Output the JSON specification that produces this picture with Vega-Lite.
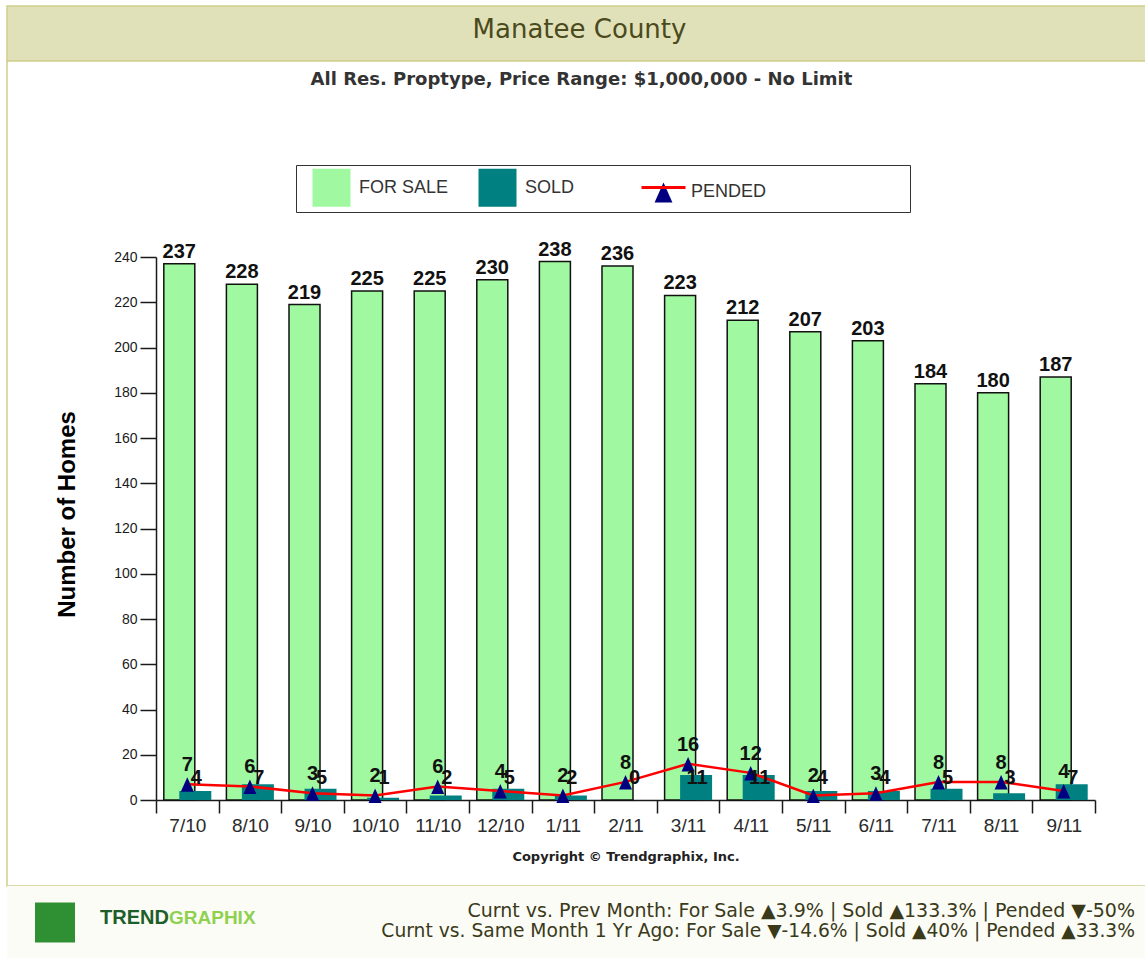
{
  "$schema": "https://vega.github.io/schema/vega-lite/v6.json",
  "background": "white",
  "padding": {"left": 6, "top": 5, "right": 0, "bottom": 0},
  "bounds": "flush",
  "spacing": 0,
  "config": {"font": "Liberation Sans", "view": {"stroke": null}},
  "datasets": {
    "homes": [
      {"month": "7/10", "forSale": 237, "sold": 4, "pended": 7},
      {"month": "8/10", "forSale": 228, "sold": 7, "pended": 6},
      {"month": "9/10", "forSale": 219, "sold": 5, "pended": 3},
      {"month": "10/10", "forSale": 225, "sold": 1, "pended": 2},
      {"month": "11/10", "forSale": 225, "sold": 2, "pended": 6},
      {"month": "12/10", "forSale": 230, "sold": 5, "pended": 4},
      {"month": "1/11", "forSale": 238, "sold": 2, "pended": 2},
      {"month": "2/11", "forSale": 236, "sold": 0, "pended": 8},
      {"month": "3/11", "forSale": 223, "sold": 11, "pended": 16},
      {"month": "4/11", "forSale": 212, "sold": 11, "pended": 12},
      {"month": "5/11", "forSale": 207, "sold": 4, "pended": 2},
      {"month": "6/11", "forSale": 203, "sold": 4, "pended": 3},
      {"month": "7/11", "forSale": 184, "sold": 5, "pended": 8},
      {"month": "8/11", "forSale": 180, "sold": 3, "pended": 8},
      {"month": "9/11", "forSale": 187, "sold": 7, "pended": 4}
    ]
  },
  "vconcat": [
    {
      "width": 1139,
      "height": 55,
      "view": {"fill": "#e1e1b9", "stroke": "#cfcf8e", "strokeWidth": 1.5},
      "data": {"values": [{"name": "Manatee County"}]},
      "mark": {"type": "text", "font": "DejaVu Sans", "fontSize": 26, "color": "#4a4a1c", "baseline": "middle", "dy": -4, "dx": 3},
      "encoding": {"text": {"field": "name"}}
    },
    {
      "width": 1139,
      "height": 825,
      "view": {"fill": "white", "stroke": "#cfcf8e", "strokeWidth": 1.5},
      "title": {"text": "All Res. Proptype, Price Range: $1,000,000 - No Limit", "anchor": "middle", "frame": "group", "offset": -42, "font": "DejaVu Sans", "fontSize": 18, "fontWeight": "bold", "color": "#333333", "baseline": "alphabetic", "dx": 5},
      "data": {"name": "homes"},
      "encoding": {
        "x": {
          "field": "month", "type": "ordinal", "sort": null,
          "scale": {"type": "band", "range": [149, 1088], "paddingInner": 0, "paddingOuter": 0},
          "axis": {"title": "Copyright © Trendgraphix, Inc.", "orient": "bottom", "offset": -86, "tickBand": "extent", "tickSize": 13, "tickWidth": 1.5, "tickColor": "#1a1a1a", "domainColor": "#1a1a1a", "domainWidth": 1.5, "labelAngle": 0, "labelFontSize": 19, "labelColor": "#2a2a2a", "labelPadding": 3, "titleFont": "DejaVu Sans", "titleFontSize": 13, "titleFontWeight": "bold", "titleColor": "#222222", "titlePadding": 15}
        }
      },
      "layer": [
        {
          "mark": {"type": "bar", "width": 31, "xOffset": -8, "stroke": "#111111", "strokeWidth": 1.5},
          "encoding": {
            "y": {"field": "forSale", "type": "quantitative", "scale": {"domain": [0, 240], "range": [739, 196], "nice": false},
              "axis": {"title": "Number of Homes", "values": [0, 20, 40, 60, 80, 100, 120, 140, 160, 180, 200, 220, 240], "offset": -149, "tickSize": 16, "tickColor": "#1a1a1a", "tickWidth": 1.5, "domainColor": "#1a1a1a", "domainWidth": 1.5, "labelFontSize": 14, "labelColor": "#1a1a1a", "labelPadding": 3, "grid": false, "labelFlush": false, "labelOverlap": false, "titleFontSize": 24, "titleFontWeight": "bold", "titleColor": "#000000", "titleX": -89, "titleY": 453, "titleAngle": -90, "titleAlign": "center", "titleBaseline": "middle"}},
            "fill": {"datum": "FOR SALE", "scale": {"domain": ["FOR SALE", "SOLD", "PENDED"], "range": ["#a0f8a0", "#008080", "#000080"]},
              "legend": {"title": " ", "titleOrient": "right", "titlePadding": 141, "orient": "none", "legendX": 289, "legendY": 159, "direction": "horizontal", "symbolSize": 1444, "labelFontSize": 18, "labelColor": "#333333", "labelFont": "Liberation Sans", "labelOffset": 8, "columnPadding": 16, "gridAlign": "all", "padding": 3, "strokeColor": "#333333", "symbolOffset": 13, "symbolStrokeColor": "#111111", "symbolStrokeWidth": 1, "symbolOpacity": 1}}
          }
        },
        {
          "mark": {"type": "bar", "width": 32, "xOffset": 8},
          "encoding": {
            "y": {"field": "sold", "type": "quantitative", "scale": {"domain": [0, 240], "range": [739, 196], "nice": false},
              "axis": {"title": "Number of Homes", "values": [0, 20, 40, 60, 80, 100, 120, 140, 160, 180, 200, 220, 240], "offset": -149, "tickSize": 16, "tickColor": "#1a1a1a", "tickWidth": 1.5, "domainColor": "#1a1a1a", "domainWidth": 1.5, "labelFontSize": 14, "labelColor": "#1a1a1a", "labelPadding": 3, "grid": false, "labelFlush": false, "labelOverlap": false, "titleFontSize": 24, "titleFontWeight": "bold", "titleColor": "#000000", "titleX": -89, "titleY": 453, "titleAngle": -90, "titleAlign": "center", "titleBaseline": "middle"}},
            "fill": {"datum": "SOLD", "scale": {"domain": ["FOR SALE", "SOLD", "PENDED"], "range": ["#a0f8a0", "#008080", "#000080"]},
              "legend": {"title": " ", "titleOrient": "right", "titlePadding": 141, "orient": "none", "legendX": 289, "legendY": 159, "direction": "horizontal", "symbolSize": 1444, "labelFontSize": 18, "labelColor": "#333333", "labelFont": "Liberation Sans", "labelOffset": 8, "columnPadding": 16, "gridAlign": "all", "padding": 3, "strokeColor": "#333333", "symbolOffset": 13, "symbolStrokeColor": "#111111", "symbolStrokeWidth": 1, "symbolOpacity": 1}}
          }
        },
        {
          "mark": {"type": "text", "font": "Liberation Sans", "fontSize": 20, "fontWeight": "bold", "color": "#111111", "baseline": "alphabetic", "dx": -8, "dy": -6},
          "encoding": {
            "y": {"field": "forSale", "type": "quantitative", "scale": {"domain": [0, 240], "range": [739, 196], "nice": false},
              "axis": {"title": "Number of Homes", "values": [0, 20, 40, 60, 80, 100, 120, 140, 160, 180, 200, 220, 240], "offset": -149, "tickSize": 16, "tickColor": "#1a1a1a", "tickWidth": 1.5, "domainColor": "#1a1a1a", "domainWidth": 1.5, "labelFontSize": 14, "labelColor": "#1a1a1a", "labelPadding": 3, "grid": false, "labelFlush": false, "labelOverlap": false, "titleFontSize": 24, "titleFontWeight": "bold", "titleColor": "#000000", "titleX": -89, "titleY": 453, "titleAngle": -90, "titleAlign": "center", "titleBaseline": "middle"}},
            "text": {"field": "forSale"}
          }
        },
        {
          "mark": {"type": "line", "strokeWidth": 2.5},
          "encoding": {
            "y": {"field": "pended", "type": "quantitative", "scale": {"domain": [0, 240], "range": [739, 196], "nice": false},
              "axis": {"title": "Number of Homes", "values": [0, 20, 40, 60, 80, 100, 120, 140, 160, 180, 200, 220, 240], "offset": -149, "tickSize": 16, "tickColor": "#1a1a1a", "tickWidth": 1.5, "domainColor": "#1a1a1a", "domainWidth": 1.5, "labelFontSize": 14, "labelColor": "#1a1a1a", "labelPadding": 3, "grid": false, "labelFlush": false, "labelOverlap": false, "titleFontSize": 24, "titleFontWeight": "bold", "titleColor": "#000000", "titleX": -89, "titleY": 453, "titleAngle": -90, "titleAlign": "center", "titleBaseline": "middle"}},
            "color": {"datum": "PENDED", "scale": {"domain": ["PENDED"], "range": ["#ff0000"]},
              "legend": {"title": null, "orient": "none", "legendX": 633, "legendY": 158, "symbolType": "stroke", "symbolSize": 1936, "symbolStrokeWidth": 3, "labelExpr": "''", "padding": 0}}
          }
        },
        {
          "mark": {"type": "point", "filled": true, "size": 766, "opacity": 1},
          "encoding": {
            "y": {"field": "pended", "type": "quantitative", "scale": {"domain": [0, 240], "range": [739, 196], "nice": false},
              "axis": {"title": "Number of Homes", "values": [0, 20, 40, 60, 80, 100, 120, 140, 160, 180, 200, 220, 240], "offset": -149, "tickSize": 16, "tickColor": "#1a1a1a", "tickWidth": 1.5, "domainColor": "#1a1a1a", "domainWidth": 1.5, "labelFontSize": 14, "labelColor": "#1a1a1a", "labelPadding": 3, "grid": false, "labelFlush": false, "labelOverlap": false, "titleFontSize": 24, "titleFontWeight": "bold", "titleColor": "#000000", "titleX": -89, "titleY": 453, "titleAngle": -90, "titleAlign": "center", "titleBaseline": "middle"}},
            "fill": {"datum": "PENDED", "scale": {"domain": ["FOR SALE", "SOLD", "PENDED"], "range": ["#a0f8a0", "#008080", "#000080"]},
              "legend": {"title": " ", "titleOrient": "right", "titlePadding": 141, "orient": "none", "legendX": 289, "legendY": 159, "direction": "horizontal", "symbolSize": 1444, "labelFontSize": 18, "labelColor": "#333333", "labelFont": "Liberation Sans", "labelOffset": 8, "columnPadding": 16, "gridAlign": "all", "padding": 3, "strokeColor": "#333333", "symbolOffset": 13, "symbolStrokeColor": "#111111", "symbolStrokeWidth": 1, "symbolOpacity": 1}},
            "shape": {"datum": "PENDED", "scale": {"domain": ["FOR SALE", "SOLD", "PENDED"], "range": ["square", "square", "M0,-0.5L0.47,0.55L-0.47,0.55Z"]},
              "legend": {"title": " ", "titleOrient": "right", "titlePadding": 141, "orient": "none", "legendX": 289, "legendY": 159, "direction": "horizontal", "symbolSize": 1444, "labelFontSize": 18, "labelColor": "#333333", "labelFont": "Liberation Sans", "labelOffset": 8, "columnPadding": 16, "gridAlign": "all", "padding": 3, "strokeColor": "#333333", "symbolOffset": 13, "symbolStrokeColor": "#111111", "symbolStrokeWidth": 1, "symbolOpacity": 1}}
          }
        },
        {
          "mark": {"type": "text", "font": "Liberation Sans", "fontSize": 20, "fontWeight": "bold", "color": "#111111", "baseline": "alphabetic", "dy": -13},
          "encoding": {
            "y": {"field": "pended", "type": "quantitative", "scale": {"domain": [0, 240], "range": [739, 196], "nice": false},
              "axis": {"title": "Number of Homes", "values": [0, 20, 40, 60, 80, 100, 120, 140, 160, 180, 200, 220, 240], "offset": -149, "tickSize": 16, "tickColor": "#1a1a1a", "tickWidth": 1.5, "domainColor": "#1a1a1a", "domainWidth": 1.5, "labelFontSize": 14, "labelColor": "#1a1a1a", "labelPadding": 3, "grid": false, "labelFlush": false, "labelOverlap": false, "titleFontSize": 24, "titleFontWeight": "bold", "titleColor": "#000000", "titleX": -89, "titleY": 453, "titleAngle": -90, "titleAlign": "center", "titleBaseline": "middle"}},
            "text": {"field": "pended"}
          }
        },
        {
          "mark": {"type": "text", "font": "Liberation Sans", "fontSize": 20, "fontWeight": "bold", "color": "#111111", "baseline": "alphabetic", "dx": 9, "dy": -16},
          "encoding": {
            "y": {"datum": 0, "type": "quantitative", "scale": {"domain": [0, 240], "range": [739, 196], "nice": false},
              "axis": {"title": "Number of Homes", "values": [0, 20, 40, 60, 80, 100, 120, 140, 160, 180, 200, 220, 240], "offset": -149, "tickSize": 16, "tickColor": "#1a1a1a", "tickWidth": 1.5, "domainColor": "#1a1a1a", "domainWidth": 1.5, "labelFontSize": 14, "labelColor": "#1a1a1a", "labelPadding": 3, "grid": false, "labelFlush": false, "labelOverlap": false, "titleFontSize": 24, "titleFontWeight": "bold", "titleColor": "#000000", "titleX": -89, "titleY": 453, "titleAngle": -90, "titleAlign": "center", "titleBaseline": "middle"}},
            "text": {"field": "sold"}
          }
        }
      ]
    },
    {
      "width": 1139,
      "height": 73,
      "view": {"fill": "#fcfcf6", "stroke": null},
      "title": {"text": "Curnt vs. Prev Month: For Sale ▲3.9% | Sold ▲133.3% | Pended ▼-50%", "subtitle": "Curnt vs. Same Month 1 Yr Ago: For Sale ▼-14.6% | Sold ▲40% | Pended ▲33.3%", "anchor": "end", "frame": "group", "orient": "top", "offset": -55, "dx": -11, "font": "DejaVu Sans", "fontSize": 19, "fontWeight": "normal", "color": "#3a3a1a", "subtitleFont": "DejaVu Sans", "subtitleFontSize": 18.7, "subtitleColor": "#3a3a1a", "subtitlePadding": 1},
      "data": {"values": [{"part": "logo", "word": ""}, {"part": "brand", "word": "TREND"}, {"part": "brand", "word": "GRAPHIX"}]},
      "encoding": {
        "x": {"field": "part", "type": "nominal", "sort": null, "scale": {"type": "point", "domain": ["logo", "brand"], "range": [48, 162], "padding": 0}, "axis": null}
      },
      "layer": [
        {
          "transform": [{"filter": "datum.part === 'logo'"}],
          "mark": {"type": "point", "shape": "square", "filled": true, "size": 1600, "color": "#2f8f33", "opacity": 1, "dy": -3}
        },
        {
          "transform": [{"filter": "datum.word === 'TREND'"}],
          "mark": {"type": "text", "align": "right", "baseline": "middle", "font": "Liberation Sans", "fontSize": 20, "fontWeight": "bold", "color": "#1d5e2a", "dy": -5},
          "encoding": {"text": {"field": "word"}}
        },
        {
          "transform": [{"filter": "datum.word === 'GRAPHIX'"}],
          "mark": {"type": "text", "align": "left", "baseline": "middle", "font": "Liberation Sans", "fontSize": 19, "fontWeight": "bold", "color": "#8fd14f", "dy": -5},
          "encoding": {"text": {"field": "word"}}
        }
      ]
    }
  ]
}
